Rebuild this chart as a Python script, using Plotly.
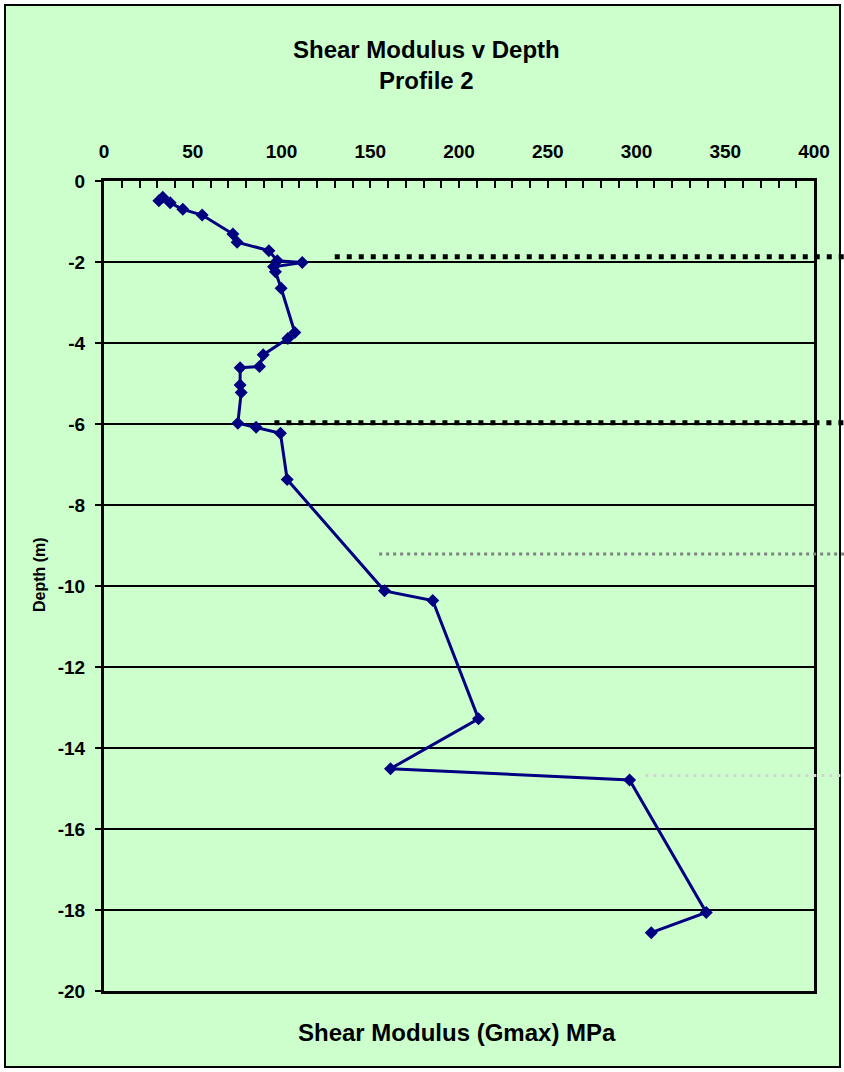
import plotly.graph_objects as go

# Shear modulus profile (Gmax, MPa) against depth (m)
gmax = [30.9, 33.1, 37.3, 44.4, 55.3, 72.6, 75.0, 92.9, 97.6, 111.7, 95.5, 96.6,
        99.8, 107.5, 103.6, 89.7, 87.6, 76.7, 76.7, 77.3, 75.4, 85.7, 99.4, 103.2,
        158.0, 185.2, 211.0, 161.4, 296.1, 339.3, 308.3]
depth = [-0.49, -0.40, -0.54, -0.70, -0.84, -1.31, -1.51, -1.72, -1.97, -2.01, -2.12, -2.24,
         -2.65, -3.74, -3.89, -4.29, -4.58, -4.61, -5.04, -5.22, -5.98, -6.08, -6.23, -7.37,
         -10.12, -10.36, -13.28, -14.51, -14.79, -18.06, -18.56]

# Layer boundary markers: depth and the modulus where each marker starts
boundary_depth = [-1.87, -5.97, -9.21, -14.68]
boundary_start = [130, 96, 155, 305]
boundary_color = ["#000000", "#000000", "#808080", "#d4d4d4"]
boundary_width = [5, 5, 3, 3]
boundary_dash = ["5px,7px", "5px,7px", "3px,4px", "3px,5px"]

x_ticks = [0, 50, 100, 150, 200, 250, 300, 350, 400]
y_ticks = [0, -2, -4, -6, -8, -10, -12, -14, -16, -18, -20]
y_tick_labels = ["0", "-2", "-4", "-6", "-8", "-10", "-12", "-14", "-16", "-18", "-20"]

X_RANGE = [0, 400]
Y_RANGE = [-20, 0]

W, H = 844, 1072
M_L, M_R, M_T, M_B = 104, 30, 181, 81
PW, PH = W - M_L - M_R, H - M_T - M_B

FONT = "Liberation Sans, Arial, sans-serif"


def px_to_paper_x(px):
    return (px - M_L) / PW


def px_to_paper_y(py):
    return (H - M_B - py) / PH


def data_to_paper_x(v):
    return (v - X_RANGE[0]) / (X_RANGE[1] - X_RANGE[0])


def data_to_paper_y(v):
    return (v - Y_RANGE[0]) / (Y_RANGE[1] - Y_RANGE[0])


fig = go.Figure()
fig.add_trace(go.Scatter(
    x=gmax, y=depth, mode="lines+markers",
    line=dict(color="#000080", width=3),
    marker=dict(symbol="diamond", size=10, color="#000080"),
    showlegend=False,
))

shapes = [
    # chart area background and border
    dict(type="rect", xref="paper", yref="paper", layer="below",
         x0=px_to_paper_x(5), x1=px_to_paper_x(840),
         y0=px_to_paper_y(1067), y1=px_to_paper_y(5),
         fillcolor="#CCFFCC", line=dict(color="black", width=2)),
]
for d, s, c, w, dash in zip(boundary_depth, boundary_start, boundary_color,
                            boundary_width, boundary_dash):
    yp = data_to_paper_y(d)
    shapes.append(dict(type="line", xref="paper", yref="paper", layer="above",
                       x0=data_to_paper_x(s), x1=1.2, y0=yp, y1=yp,
                       line=dict(color=c, width=w, dash=dash)))

tick_font = dict(family=FONT, size=19, color="black", weight="bold")

fig.update_layout(
    width=W, height=H,
    margin=dict(l=M_L, r=M_R, t=M_T, b=M_B, pad=0),
    paper_bgcolor="white",
    plot_bgcolor="white",
    shapes=shapes,
    xaxis=dict(
        range=X_RANGE, side="top", tickvals=x_ticks,
        ticks="inside", ticklen=7, tickwidth=1.5, tickcolor="black",
        minor=dict(dtick=10, ticks="inside", ticklen=7, tickwidth=1.5, tickcolor="black"),
        showgrid=False, zeroline=False,
        showline=True, linecolor="black", linewidth=3, mirror=True,
        tickfont=tick_font, ticklabelstandoff=12,
    ),
    yaxis=dict(
        range=Y_RANGE, tickvals=y_ticks, ticktext=y_tick_labels,
        ticks="outside", ticklen=6, tickwidth=1.5, tickcolor="black",
        showgrid=True, gridcolor="black", gridwidth=1.5, zeroline=False,
        showline=True, linecolor="black", linewidth=3, mirror=True,
        tickfont=tick_font, ticklabelstandoff=6,
    ),
    annotations=[
        dict(text="Shear Modulus v Depth", xref="paper", yref="paper",
             x=px_to_paper_x(426), y=px_to_paper_y(49), showarrow=False,
             xanchor="center", yanchor="middle",
             font=dict(family=FONT, size=24, color="black", weight="bold")),
        dict(text="Profile 2", xref="paper", yref="paper",
             x=px_to_paper_x(426), y=px_to_paper_y(80), showarrow=False,
             xanchor="center", yanchor="middle",
             font=dict(family=FONT, size=24, color="black", weight="bold")),
        dict(text="Shear Modulus (Gmax) MPa", xref="paper", yref="paper",
             x=px_to_paper_x(457), y=px_to_paper_y(1032), showarrow=False,
             xanchor="center", yanchor="middle",
             font=dict(family=FONT, size=24, color="black", weight="bold")),
        dict(text="Depth (m)", xref="paper", yref="paper", textangle=-90,
             x=px_to_paper_x(39), y=px_to_paper_y(575), showarrow=False,
             xanchor="center", yanchor="middle",
             font=dict(family=FONT, size=16, color="black", weight="bold")),
    ],
)

fig.write_html("out.html")
